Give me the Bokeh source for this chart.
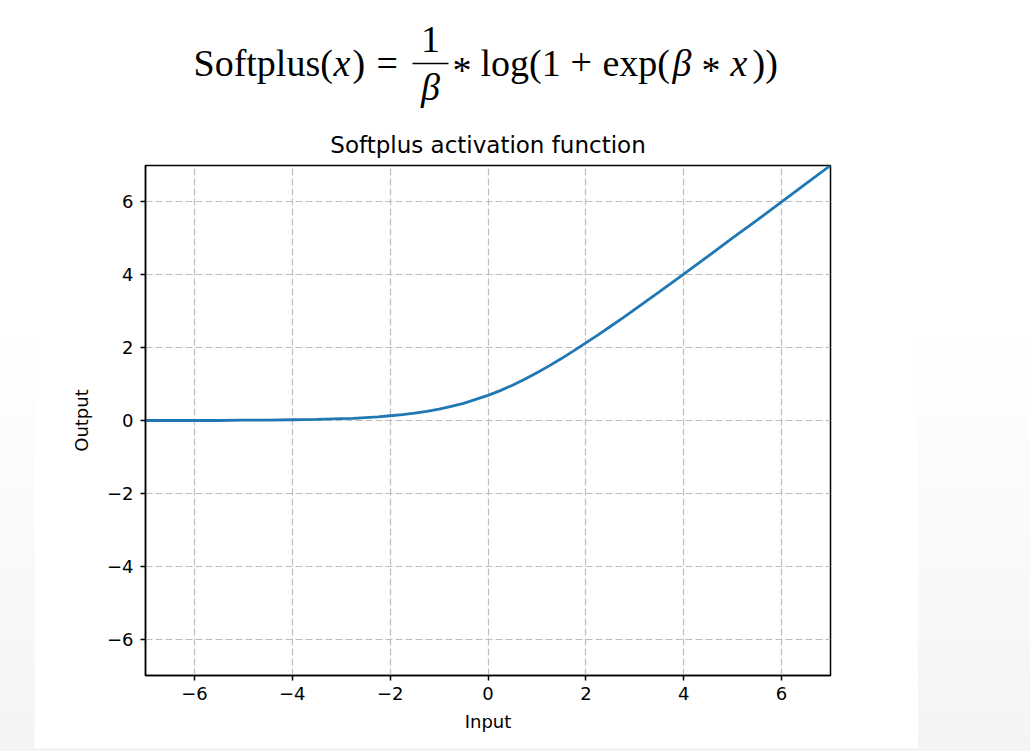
from bokeh.plotting import figure
from bokeh.models import FixedTicker, Label, Spacer, Range1d
from bokeh.layouts import row, column
from bokeh.embed import file_html
from bokeh.resources import INLINE

# ---- data ----
x_input = [-7.0, -6.5, -6.0, -5.5, -5.0, -4.5, -4.0, -3.5, -3.0, -2.75, -2.5, -2.25,
           -2.0, -1.75, -1.5, -1.25, -1.0, -0.75, -0.5, -0.25, 0.0, 0.25, 0.5, 0.75,
           1.0, 1.25, 1.5, 1.75, 2.0, 2.25, 2.5, 2.75, 3.0, 3.5, 4.0, 4.5, 5.0, 5.5,
           6.0, 6.5, 7.0]
y_output = [0.00, 0.00, 0.00, 0.00, 0.01, 0.01, 0.02, 0.03, 0.05, 0.06, 0.08, 0.10,
            0.13, 0.16, 0.20, 0.25, 0.31, 0.39, 0.47, 0.58, 0.69, 0.82, 0.97, 1.13,
            1.31, 1.50, 1.70, 1.91, 2.13, 2.35, 2.58, 2.81, 3.05, 3.53, 4.02, 4.51, 5.01, 5.50,
            6.00, 6.50, 7.00]
x_ticks = [-6, -4, -2, 0, 2, 4, 6]
y_ticks = [-6, -4, -2, 0, 2, 4, 6]
tick_labels = {t: (("\u2212" + str(abs(t))) if t < 0 else str(t)) for t in x_ticks}

title_text = "Softplus activation function"
x_label = "Input"
y_label = "Output"

# ---- layout geometry (window pixels) ----
PANEL_LEFT, PANEL_RIGHT = 34, 918
HEADER_H = 115
FRAME_L, FRAME_R, FRAME_T, FRAME_B = 145, 830, 165, 675
FIG_W = PANEL_RIGHT - PANEL_LEFT
FIG_H = 748 - HEADER_H

# ---- header with the formula (real text) ----
# (the column aligns this frame with the chart frame below: x spans 145..830)
h = figure(width=FIG_W, height=HEADER_H, output_backend="svg", toolbar_location=None,
           x_range=Range1d(FRAME_L, FRAME_R), y_range=Range1d(HEADER_H, 0),
           x_axis_type=None, y_axis_type=None, min_border=0)
h.outline_line_color = None
h.grid.visible = False
h.background_fill_color = "white"
h.border_fill_color = "white"

SERIF = "Liberation Serif"
FS = "38px"
BASE = 75
TEXT_DY = -13   # measured offset of label baselines in this header


def piece(txt, xw, yw, style="normal", align="left", size=FS):
    h.add_layout(Label(x=xw, y=yw + TEXT_DY, text=txt, text_font=SERIF,
                       text_font_size=size, text_font_style=style,
                       text_align=align, text_baseline="alphabetic",
                       text_color="black"))


piece("Softplus(", 193, BASE)
piece("x", 333, BASE, style="italic")
piece(")", 352, BASE)
piece("=", 376, BASE)
piece("1", 430, 52, align="center")
piece("\u03b2", 430, 99, style="italic", align="center")
h.segment(x0=[412], y0=[63], x1=[448], y1=[63], line_color="black", line_width=1.5)
piece("*", 452, 82)
piece("log(1", 480, BASE)
piece("+", 570, BASE)
piece("exp(", 602, BASE)
piece("\u03b2", 672, BASE, style="italic")
piece("*", 701, 82)
piece("x", 730, BASE, style="italic")
piece("))", 752, BASE)

# ---- main chart ----
p = figure(width=FIG_W, height=FIG_H, output_backend="svg", toolbar_location=None,
           x_range=Range1d(-7, 7), y_range=Range1d(-7, 7),
           min_border_left=FRAME_L - PANEL_LEFT, min_border_right=PANEL_RIGHT - FRAME_R,
           min_border_top=FRAME_T - HEADER_H, min_border_bottom=748 - FRAME_B,
           title=title_text)

p.background_fill_color = "white"
p.border_fill_color = "white"
p.outline_line_color = "black"
p.outline_line_width = 1.5

p.title.align = "center"
p.title.text_font = "DejaVu Sans"
p.title.text_font_size = "23px"
p.title.text_font_style = "normal"
p.title.text_color = "black"
p.title.standoff = 15

for ax, ticks, lab in ((p.xaxis[0], x_ticks, x_label), (p.yaxis[0], y_ticks, y_label)):
    ax.ticker = FixedTicker(ticks=ticks)
    ax.major_label_overrides = tick_labels
    ax.minor_tick_line_color = None
    ax.major_tick_in = 0
    ax.major_tick_out = 5
    ax.major_tick_line_width = 1.5
    ax.axis_line_width = 1.5
    ax.axis_line_color = "black"
    ax.major_label_text_font = "DejaVu Sans"
    ax.major_label_text_font_size = "18px"
    ax.major_label_text_color = "black"
    ax.axis_label = lab
    ax.axis_label_text_font = "DejaVu Sans"
    ax.axis_label_text_font_size = "18px"
    ax.axis_label_text_font_style = "normal"
    ax.axis_label_text_color = "black"

p.xaxis.major_label_standoff = 6
p.xaxis.axis_label_standoff = 8
p.yaxis.major_label_standoff = 7
p.yaxis.axis_label_standoff = 12
p.yaxis.major_label_orientation = "horizontal"

p.grid.grid_line_color = "#bdbdbd"
p.grid.grid_line_dash = "7 3"
p.grid.grid_line_width = 1.2

p.line(x_input, y_output, line_color="#1f77b4", line_width=2.8)

layout = row(Spacer(width=PANEL_LEFT, height=751), column(h, p),
             Spacer(width=1030 - PANEL_RIGHT, height=751),
             styles={"background": "linear-gradient(to bottom, #ffffff 0%, #ffffff 45%, #f4f4f4 100%)"})

open("out.html", "w").write(file_html(layout, INLINE))
